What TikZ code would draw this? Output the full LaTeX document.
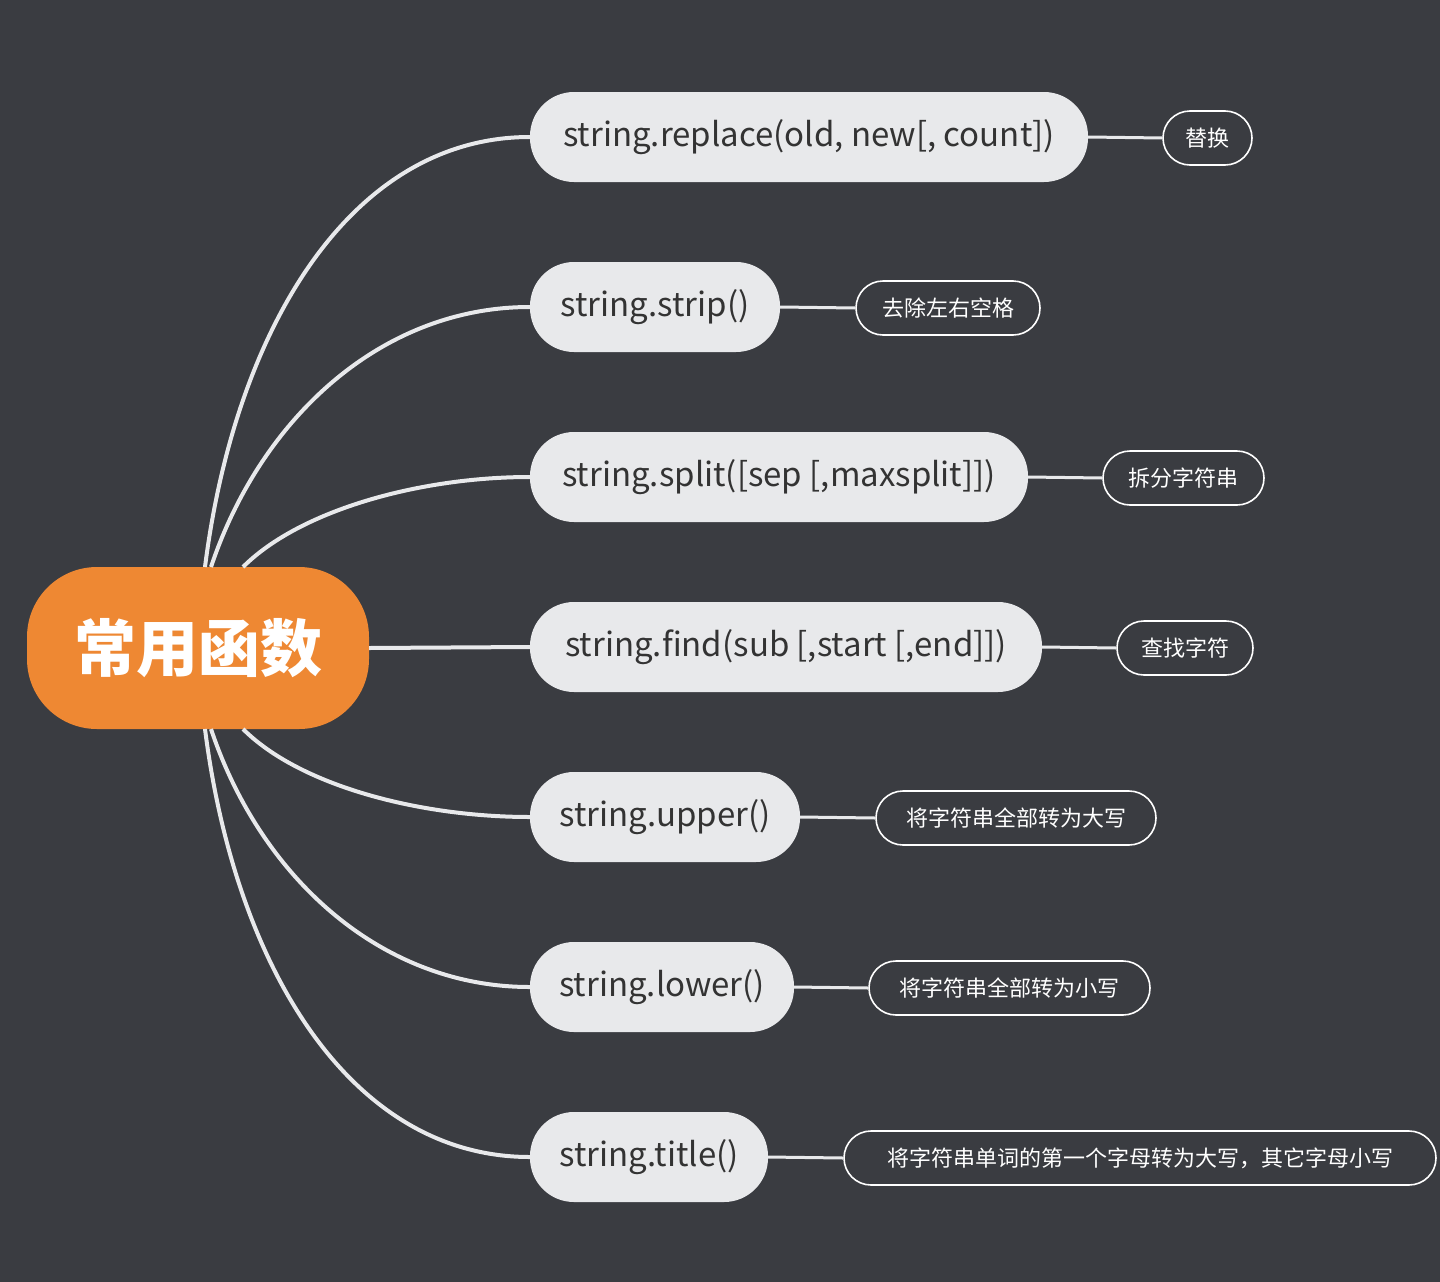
\documentclass[tikz,border=0pt]{standalone}
\usepackage{fontspec}
\setmainfont{Noto Sans CJK SC}
\begin{document}
\begin{tikzpicture}[x=1pt,y=-1pt,
  branch/.style={fill=bfill,rounded corners=44pt,minimum height=90pt,inner sep=0pt,font=\fontsize{33}{36}\selectfont,text=btext},
  leaf/.style={draw=white,line width=1.6pt,rounded corners=27pt,minimum height=54pt,inner sep=0pt,font=\fontsize{22}{24}\selectfont,text=white},
  conn/.style={draw=lcol,line width=4pt},
  lconn/.style={draw=lcol,line width=3pt}]
\definecolor{bg}{HTML}{3A3C41}
\definecolor{bfill}{HTML}{E8E9EB}
\definecolor{btext}{HTML}{333333}
\definecolor{lcol}{HTML}{E8E9EB}
\definecolor{orng}{HTML}{EE8833}
\fill[bg] (0,0) rectangle (1440,1282);
\useasboundingbox (0,0) rectangle (1440,1282);
% root
\node[fill=orng,rounded corners=70pt,minimum width=342pt,minimum height=162pt,inner sep=0pt,text=white,font=\fontsize{62}{66}\selectfont\bfseries] (root) at (198,648) {常用函数};
\coordinate (s1) at (205,567); \coordinate (s2) at (211,567); \coordinate (s3) at (243,567);
\coordinate (t1) at (205,729); \coordinate (t2) at (211,729); \coordinate (t3) at (243,729);
% branches
\node[branch,minimum width=558pt] (b1) at (809,137) {string.replace(old, new[, count])};
\node[branch,minimum width=250pt] (b2) at (655,307) {string.strip()};
\node[branch,minimum width=498pt] (b3) at (779,477) {string.split([sep [,maxsplit]])};
\node[branch,minimum width=512pt] (b4) at (786,647) {string.find(sub [,start [,end]])};
\node[branch,minimum width=270pt] (b5) at (665,817) {string.upper()};
\node[branch,minimum width=264pt] (b6) at (662,987) {string.lower()};
\node[branch,minimum width=238pt] (b7) at (649,1157) {string.title()};
% leaves
\node[leaf,minimum width=89pt] (l1) at (1207.5,138) {替换};
\node[leaf,minimum width=184pt] (l2) at (948,308) {去除左右空格};
\node[leaf,minimum width=161pt] (l3) at (1183.5,478) {拆分字符串};
\node[leaf,minimum width=136pt] (l4) at (1185,648) {查找字符};
\node[leaf,minimum width=280pt] (l5) at (1016,818) {将字符串全部转为大写};
\node[leaf,minimum width=281pt] (l6) at (1009.5,988) {将字符串全部转为小写};
\node[leaf,minimum width=592pt] (l7) at (1140,1158) {将字符串单词的第一个字母转为大写，其它字母小写};
% connectors
\draw[conn] (s1) .. controls (235,330) and (350,137) .. (b1.west);
\draw[conn] (s2) .. controls (260,420) and (380,307) .. (b2.west);
\draw[conn] (s3) .. controls (300,510) and (420,477) .. (b3.west);
\draw[conn] (root.east) -- (b4.west);
\draw[conn] (t3) .. controls (300,786) and (420,817) .. (b5.west);
\draw[conn] (t2) .. controls (260,876) and (380,987) .. (b6.west);
\draw[conn] (t1) .. controls (235,966) and (350,1157) .. (b7.west);
\foreach \i in {1,...,7} \draw[lconn] (b\i.east) -- (l\i.west);
\end{tikzpicture}
\end{document}
